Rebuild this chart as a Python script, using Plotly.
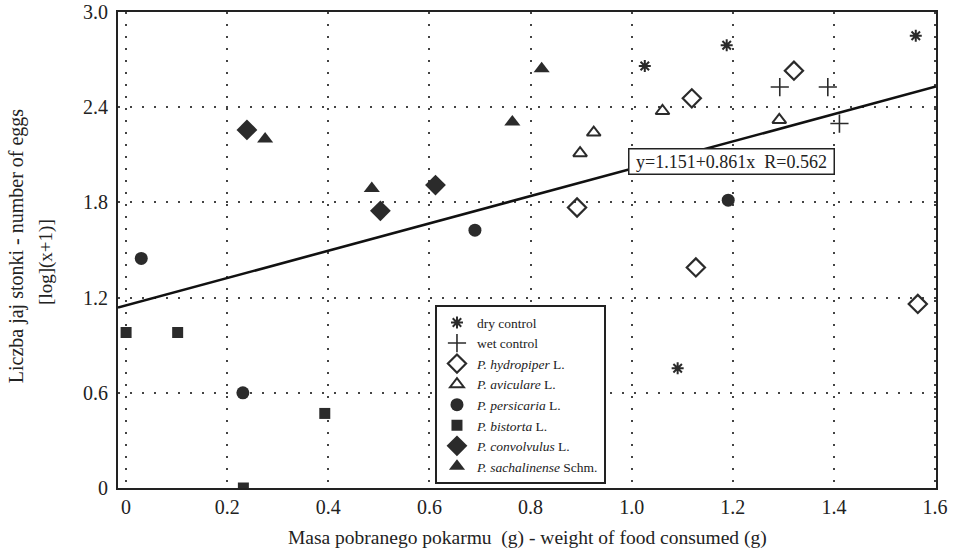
import plotly.graph_objects as go

# ---- data ----
dry_x = [1.026, 1.188, 1.562, 1.091]
dry_y = [2.66, 2.79, 2.85, 0.755]
wet_x = [1.293, 1.388, 1.411]
wet_y = [2.527, 2.527, 2.297]
hyd_x = [0.892, 1.119, 1.127, 1.321, 1.566]
hyd_y = [1.768, 2.456, 1.39, 2.63, 1.16]
avi_x = [0.898, 0.925, 1.061, 1.292]
avi_y = [2.11, 2.24, 2.376, 2.32]
per_x = [0.030, 0.231, 0.69, 1.191]
per_y = [1.447, 0.60, 1.625, 1.814]
bis_x = [0.0, 0.102, 0.232, 0.393]
bis_y = [0.98, 0.98, 0.0, 0.47]
con_x = [0.239, 0.503, 0.612]
con_y = [2.257, 1.747, 1.909]
sac_x = [0.275, 0.486, 0.764, 0.822]
sac_y = [2.20, 1.888, 2.307, 2.643]

reg_intercept = 1.151
reg_slope = 0.861
reg_r = 0.562

x_tick_vals = [0, 0.2, 0.4, 0.6, 0.8, 1.0, 1.2, 1.4, 1.6]
x_tick_text = ["0", "0.2", "0.4", "0.6", "0.8", "1.0", "1.2", "1.4", "1.6"]
y_tick_vals = [0, 0.6, 1.2, 1.8, 2.4, 3.0]
y_tick_text = ["0", "0.6", "1.2", "1.8", "2.4", "3.0"]

series_names = [
    "dry control",
    "wet control",
    "<i>P. hydropiper</i> L.",
    "<i>P. aviculare</i> L.",
    "<i>P. persicaria</i> L.",
    "<i>P. bistorta</i> L.",
    "<i>P. convolvulus</i> L.",
    "<i>P. sachalinense</i> Schm.",
]

# ---- styling ----
FONT = "Liberation Serif, Times New Roman, serif"
INK = "#2b2b2b"
x_range = [-0.016, 1.602]
y_range = [0, 3.0]

fig = go.Figure()

series = [
    (dry_x, dry_y, dict(symbol="asterisk", size=10, line=dict(width=2, color=INK), color=INK)),
    (wet_x, wet_y, dict(symbol="cross-thin", size=13, line=dict(width=1.6, color=INK), color=INK)),
    (hyd_x, hyd_y, dict(symbol="diamond-open", size=14, line=dict(width=2.2, color=INK), color=INK)),
    (avi_x, avi_y, dict(symbol="triangle-up-open", size=12, line=dict(width=2, color=INK), color=INK)),
    (per_x, per_y, dict(symbol="circle", size=13, color=INK, line=dict(width=0))),
    (bis_x, bis_y, dict(symbol="square", size=11, color=INK, line=dict(width=0))),
    (con_x, con_y, dict(symbol="diamond", size=16, color=INK, line=dict(width=0))),
    (sac_x, sac_y, dict(symbol="triangle-up", size=14, color=INK, line=dict(width=0))),
]

# regression line
line_x = [x_range[0], x_range[1]]
line_y = [reg_intercept + reg_slope * v for v in line_x]
fig.add_trace(go.Scatter(x=line_x, y=line_y, mode="lines",
                         line=dict(color="#111111", width=2.6),
                         showlegend=False, hoverinfo="skip"))

for name, (xs, ys, mk) in zip(series_names, series):
    fig.add_trace(go.Scatter(x=xs, y=ys, mode="markers", name=name, marker=mk))

grid_common = dict(
    showgrid=True, gridcolor="#444444", gridwidth=2, griddash="2px,10px",
    showline=True, linecolor="#222222", linewidth=2, mirror=True,
    zeroline=False, ticks="", automargin=False,
    tickfont=dict(family=FONT, size=20, color="#222222"),
)

fig.update_xaxes(range=x_range, tickmode="array", tickvals=x_tick_vals,
                 ticktext=x_tick_text, **grid_common)
fig.update_yaxes(range=y_range, tickmode="array", tickvals=y_tick_vals,
                 ticktext=y_tick_text, ticklabelstandoff=4, **grid_common)

eq_text = "\u00a0y=%.3f+%.3fx\u00a0\u00a0R=%.3f\u00a0" % (reg_intercept, reg_slope, reg_r)

fig.update_layout(
    width=958, height=552,
    margin=dict(l=118, r=22, t=12, b=64, autoexpand=False),
    paper_bgcolor="white", plot_bgcolor="white",
    font=dict(family=FONT, color="#222222"),
    showlegend=True,
    legend=dict(
        x=0.3875, y=0.384, xanchor="left", yanchor="top",
        bgcolor="white", bordercolor="#222222", borderwidth=2,
        font=dict(family=FONT, size=13.5, color="#222222"),
        itemwidth=30, tracegroupgap=0,
    ),
    annotations=[
        dict(x=1.197, y=2.057, xref="x", yref="y", text=eq_text,
             showarrow=False, font=dict(family=FONT, size=18, color="#222222"),
             bordercolor="#222222", borderwidth=1.5, borderpad=2, bgcolor="white"),
        dict(x=0.5, y=-0.105, xref="paper", yref="paper",
             text="Masa pobranego pokarmu\u00a0\u00a0(g) - weight of food consumed (g)",
             showarrow=False, xanchor="center", yanchor="middle",
             font=dict(family=FONT, size=19.5, color="#222222")),
        dict(x=-0.1247, y=0.51, xref="paper", yref="paper",
             text="Liczba jaj stonki - number of eggs", textangle=-90,
             showarrow=False, xanchor="center", yanchor="middle",
             font=dict(family=FONT, size=20, color="#222222")),
        dict(x=-0.088, y=0.475, xref="paper", yref="paper",
             text="[log](x+1)]", textangle=-90,
             showarrow=False, xanchor="center", yanchor="middle",
             font=dict(family=FONT, size=19, color="#222222")),
    ],
)

fig.write_html("out.html", config={"displayModeBar": False},
               post_script="document.body.style.margin='0';document.body.style.overflow='hidden';")
